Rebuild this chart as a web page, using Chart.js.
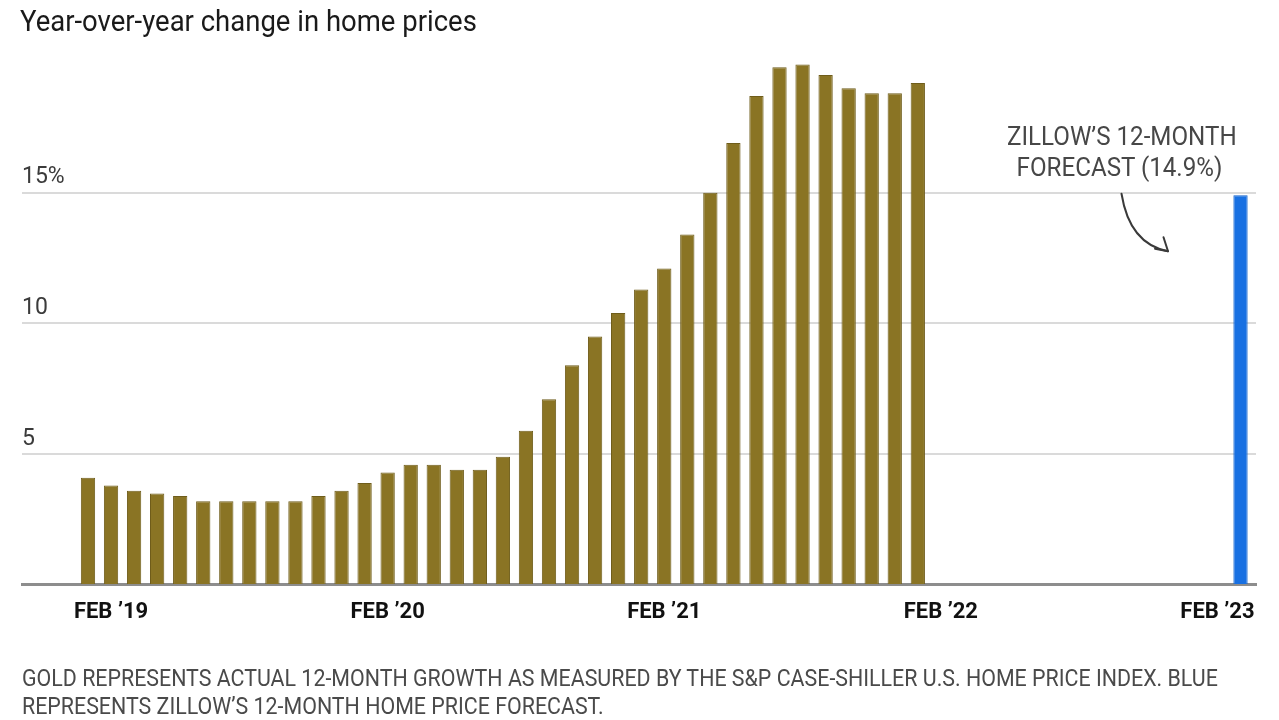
<!DOCTYPE html>
<html>
<head>
<meta charset="utf-8">
<script src="https://cdn.jsdelivr.net/npm/chart.js@4.4.1/dist/chart.umd.min.js"></script>
<style>
html,body{margin:0;padding:0;background:#fff;}
#wrap{position:relative;width:1279px;height:720px;overflow:hidden;font-family:Roboto,"Noto Sans",sans-serif;background:#fff;}
canvas{position:absolute;left:0;top:0;}
.t{position:absolute;white-space:nowrap;transform-origin:0 0;}
#title{left:20px;top:7px;font-size:29px;line-height:29px;color:#1a1a1a;}
.note{left:22px;font-size:24px;line-height:24px;color:#4a4a4a;}
.ann{font-size:25px;line-height:25px;color:#474747;transform-origin:50% 0;}
</style>
</head>
<body>
<div id="wrap">
<canvas id="c" width="1279" height="720"></canvas>
<div id="title" class="t">Year-over-year change in home prices</div>
<div id="ann1" class="t ann" style="top:124px">ZILLOW’S 12-MONTH</div>
<div id="ann2" class="t ann" style="top:155px">FORECAST (14.9%)</div>
<div id="note1" class="t note" style="top:666px">GOLD REPRESENTS ACTUAL 12-MONTH GROWTH AS MEASURED BY THE S&amp;P CASE-SHILLER U.S. HOME PRICE INDEX. BLUE</div>
<div id="note2" class="t note" style="top:694px">REPRESENTS ZILLOW’S 12-MONTH HOME PRICE FORECAST.</div>
</div>
<script>
// ---- data ----
const months = [
  "JAN ’19","FEB ’19","MAR ’19","APR ’19","MAY ’19","JUN ’19","JUL ’19","AUG ’19","SEP ’19","OCT ’19","NOV ’19","DEC ’19",
  "JAN ’20","FEB ’20","MAR ’20","APR ’20","MAY ’20","JUN ’20","JUL ’20","AUG ’20","SEP ’20","OCT ’20","NOV ’20","DEC ’20",
  "JAN ’21","FEB ’21","MAR ’21","APR ’21","MAY ’21","JUN ’21","JUL ’21","AUG ’21","SEP ’21","OCT ’21","NOV ’21","DEC ’21",
  "JAN ’22","FEB ’22","MAR ’22","APR ’22","MAY ’22","JUN ’22","JUL ’22","AUG ’22","SEP ’22","OCT ’22","NOV ’22","DEC ’22",
  "JAN ’23","FEB ’23","MAR ’23"
];
// Case-Shiller actual YoY growth (%), Jan '19 .. Jan '22
const actualGrowth = [
  4.1, 3.8, 3.6, 3.5, 3.4, 3.2, 3.2, 3.2, 3.2, 3.2, 3.4, 3.6,
  3.9, 4.3, 4.6, 4.6, 4.4, 4.4, 4.9, 5.9, 7.1, 8.4, 9.5, 10.4,
  11.3, 12.1, 13.4, 15.0, 16.9, 18.7, 19.8, 19.9, 19.5, 19.0, 18.8, 18.8,
  19.2
];
// Zillow 12-month forecast (%)
const forecastMonth = "MAR ’23";
const forecastGrowth = 14.9;
// axis tick labels
const xTickLabels = ["FEB ’19","FEB ’20","FEB ’21","FEB ’22","FEB ’23"];
const yTickValues = [5, 10, 15];
const yTickLabels = ["5", "10", "15%"];

const GOLD = '#8a7424', GOLD_EDGE = '#6f5d1b';
const BLUE = '#1870e2', BLUE_EDGE = '#1262cc';

const forecastIndex = months.indexOf(forecastMonth);
const xTickIdx = xTickLabels.map(l => months.indexOf(l));
const points = actualGrowth.map((v, i) => ({x: i, y: v}))
  .concat([{x: forecastIndex, y: forecastGrowth}]);
const isForecast = i => i >= actualGrowth.length;

const arrowPlugin = {
  id: 'arrow',
  afterDraw(chart) {
    const xs = chart.scales.x, ys = chart.scales.y, c = chart.ctx;
    const bx = xs.getPixelForValue(forecastIndex);
    const gy = ys.getPixelForValue(15);
    c.save();
    c.strokeStyle = '#3a3a3a';
    c.lineWidth = 2;
    c.lineCap = 'round';
    c.lineJoin = 'round';
    const tipX = bx - 72.5, tipY = gy + 58.5;
    c.beginPath();
    c.moveTo(bx - 119, gy + 1);
    c.quadraticCurveTo(bx - 111, gy + 51, tipX, tipY);
    c.stroke();
    c.beginPath();
    c.moveTo(bx - 85.5, gy + 56);
    c.lineTo(tipX, tipY);
    c.lineTo(bx - 77, gy + 44.5);
    c.stroke();
    c.restore();
  }
};

new Chart(document.getElementById('c'), {
  type: 'bar',
  data: {
    datasets: [{
      data: points,
      backgroundColor: ctx => isForecast(ctx.dataIndex) ? BLUE : GOLD,
      borderColor: ctx => isForecast(ctx.dataIndex) ? BLUE_EDGE : GOLD_EDGE,
      borderWidth: 1,
      barPercentage: 0.62,
      categoryPercentage: 1
    }]
  },
  options: {
    responsive: false,
    animation: false,
    events: [],
    layout: { padding: { top: 62, left: 22, right: 23, bottom: 80.7 } },
    plugins: { legend: { display: false }, tooltip: { enabled: false }, title: { display: false } },
    scales: {
      x: {
        type: 'linear',
        min: -2.863, max: 50.672,
        offset: false,
        bounds: 'data',
        grid: { display: false, drawTicks: false },
        border: { display: true, color: '#8d8d8d', width: 3 },
        afterBuildTicks: s => { s.ticks = xTickIdx.map(v => ({ value: v })); },
        ticks: {
          autoSkip: false, maxRotation: 0, padding: 14,
          color: '#111111',
          font: { family: 'Roboto', size: 22, weight: 'bold' },
          callback: v => months[v]
        }
      },
      y: {
        min: 0, max: 20,
        grid: {
          color: c => (c.tick && yTickValues.includes(c.tick.value)) ? '#dadada' : 'rgba(0,0,0,0)',
          lineWidth: 2,
          drawTicks: false
        },
        border: { display: false },
        ticks: {
          stepSize: 5, mirror: true, padding: 0, labelOffset: -15,
          color: '#3b3b3b',
          font: { family: 'Roboto', size: 23 },
          callback: v => { const k = yTickValues.indexOf(v); return k >= 0 ? yTickLabels[k] : ''; }
        }
      }
    }
  },
  plugins: [arrowPlugin]
});

// condense overlay texts to the reference widths
function fitLeft(el, w) { el.style.transform = 'scaleX(' + (w / el.scrollWidth) + ')'; return w / el.scrollWidth; }
fitLeft(document.getElementById('title'), 457);
const s = fitLeft(document.getElementById('note1'), 1196);
document.getElementById('note2').style.transform = 'scaleX(' + s + ')';
const a1 = document.getElementById('ann1'), a2 = document.getElementById('ann2');
const sa = 230 / a1.scrollWidth;
a1.style.left = (1121.5 - a1.scrollWidth / 2) + 'px';
a1.style.transform = 'scaleX(' + sa + ')';
a2.style.left = (1119 - a2.scrollWidth / 2) + 'px';
a2.style.transform = 'scaleX(' + sa + ')';
</script>
</body>
</html>
